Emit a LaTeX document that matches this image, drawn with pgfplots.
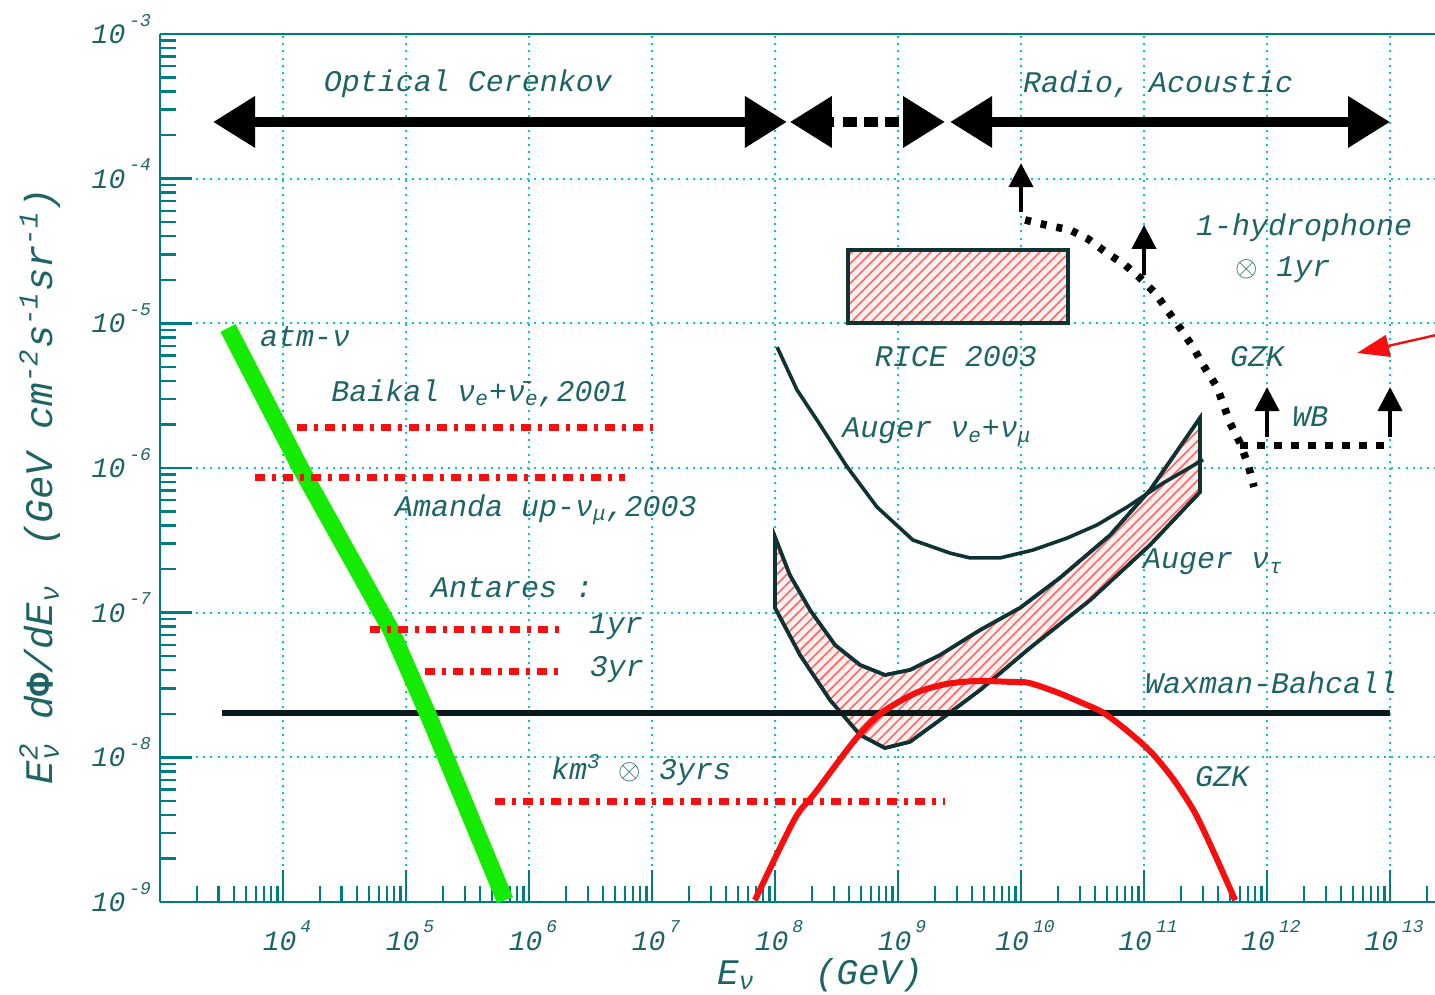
\documentclass[border=0pt]{standalone}
\usepackage{fontspec}
\setmainfont{Liberation Mono}
\usepackage{pgfplots}
\pgfplotsset{compat=1.18}
\usetikzlibrary{arrows.meta,patterns.meta}
\definecolor{txt}{RGB}{30,100,100}
\definecolor{axc}{RGB}{0,125,125}
\definecolor{gridc}{RGB}{0,200,205}
\definecolor{dk}{RGB}{15,50,50}
\definecolor{wb}{RGB}{10,25,25}
\definecolor{grn}{RGB}{20,235,0}
\definecolor{rd}{RGB}{245,15,15}
\newcommand{\lf}{\fontsize{15pt}{17pt}\selectfont\itshape}
\newcommand{\af}{\fontsize{18pt}{20pt}\selectfont\itshape}
\newcommand{\yf}{\fontsize{19.5pt}{22pt}\selectfont\itshape}
\newcommand{\tl}[1]{\fontsize{14pt}{16pt}\selectfont\itshape 10\hspace{2pt}\raisebox{0.62em}{\fontsize{9pt}{9pt}\selectfont #1}}
\newcommand{\sub}[1]{\textsubscript{#1}}
\newcommand{\sups}[1]{\textsuperscript{#1}}
\begin{document}
\begin{tikzpicture}
\begin{axis}[
  at={(0,0)}, anchor=south west,
  scale only axis, width=637.5pt, height=434pt,
  xmode=log, ymode=log,
  xmin=1e3, xmax=2.32e13, ymin=1e-9, ymax=1e-3,
  axis x line*=bottom, axis y line*=left,
  axis line style={axc, line width=1.4pt},
  tick style={axc, line width=1.2pt},
  major tick length=16pt, minor tick length=8pt,
  grid=major,
  major grid style={gridc, line width=1pt, dash pattern=on 1pt off 2.6pt},
  xtick={1e4,1e5,1e6,1e7,1e8,1e9,1e10,1e11,1e12,1e13},
  xticklabels={\tl{4},\tl{5},\tl{6},\tl{7},\tl{8},\tl{9},\tl{10},\tl{11},\tl{12},\tl{13}},
  ytick={1e-9,1e-8,1e-7,1e-6,1e-5,1e-4,1e-3},
  yticklabels={\tl{-9},\tl{-8},\tl{-7},\tl{-6},\tl{-5},\tl{-4},\tl{-3}},
  minor xtick={2e3,3e3,4e3,5e3,6e3,7e3,8e3,9e3,2e4,3e4,4e4,5e4,6e4,7e4,8e4,9e4,2e5,3e5,4e5,5e5,6e5,7e5,8e5,9e5,2e6,3e6,4e6,5e6,6e6,7e6,8e6,9e6,2e7,3e7,4e7,5e7,6e7,7e7,8e7,9e7,2e8,3e8,4e8,5e8,6e8,7e8,8e8,9e8,2e9,3e9,4e9,5e9,6e9,7e9,8e9,9e9,2e10,3e10,4e10,5e10,6e10,7e10,8e10,9e10,2e11,3e11,4e11,5e11,6e11,7e11,8e11,9e11,2e12,3e12,4e12,5e12,6e12,7e12,8e12,9e12,2e13},
  minor ytick={2e-9,3e-9,4e-9,5e-9,6e-9,7e-9,8e-9,9e-9,2e-8,3e-8,4e-8,5e-8,6e-8,7e-8,8e-8,9e-8,2e-7,3e-7,4e-7,5e-7,6e-7,7e-7,8e-7,9e-7,2e-6,3e-6,4e-6,5e-6,6e-6,7e-6,8e-6,9e-6,2e-5,3e-5,4e-5,5e-5,6e-5,7e-5,8e-5,9e-5,2e-4,3e-4,4e-4,5e-4,6e-4,7e-4,8e-4,9e-4},
  ticklabel style={text=txt},
  xticklabel style={anchor=base, yshift=-24pt, xshift=2pt},
  yticklabel style={anchor=base east, yshift=-4.7pt, xshift=-1pt},
  clip=false,
]
% RICE box
\addplot[draw=dk, line width=2pt, fill=red!6, postaction={pattern={Lines[angle=45,distance=3.5pt,line width=0.8pt]}, pattern color=red!60}]
  coordinates {(3.92e8,1.0e-5) (2.41e10,1.0e-5) (2.41e10,3.21e-5) (3.92e8,3.21e-5)} -- cycle;
% Auger nu_tau band
\addplot[draw=dk, line width=1.8pt, fill=red!6, postaction={pattern={Lines[angle=45,distance=3.5pt,line width=0.8pt]}, pattern color=red!60}]
  coordinates {(1.0e8,3.33e-7) (1.32e8,1.82e-7) (1.93e8,1.04e-7) (3.08e8,5.97e-8) (4.91e8,4.35e-8) (7.83e8,3.71e-8) (1.25e9,4.02e-8) (2.19e9,5.09e-8) (4.65e9,7.59e-8) (9.82e9,1.08e-7) (2.07e10,1.74e-7) (5.30e10,3.44e-7) (1.12e11,7.05e-7) (2.85e11,2.22e-6)
  (2.85e11,6.82e-7) (1.12e11,2.94e-7) (3.64e10,1.22e-7) (1.18e10,5.70e-8) (4.65e9,2.92e-8) (2.19e9,1.81e-8) (1.25e9,1.28e-8) (7.83e8,1.16e-8) (4.91e8,1.43e-8) (2.80e8,2.49e-8) (1.60e8,5.09e-8) (1.0e8,1.08e-7)} -- cycle;
% Waxman-Bahcall
\addplot[wb, line width=3.2pt] coordinates {(3.19e3,2.03e-8) (1.0e13,2.03e-8)};
% atm-nu
\addplot[grn, line width=8.5pt] coordinates {(3.57e3,9.29e-6) (1.37e4,1.02e-6) (7.55e4,7.59e-8) (1.54e5,1.90e-8) (6.38e5,1.03e-9)};
% red sensitivity lines
\addplot[rd, line width=3.5pt, dash pattern=on 5pt off 3.5pt on 2pt off 3.5pt] coordinates {(1.30e4,1.92e-6) (1.02e7,1.92e-6)};
\addplot[rd, line width=3.5pt, dash pattern=on 5pt off 3.5pt on 2pt off 3.5pt] coordinates {(5.92e3,8.53e-7) (6.03e6,8.53e-7)};
\addplot[rd, line width=3.5pt, dash pattern=on 5pt off 3.5pt on 2pt off 3.5pt] coordinates {(5.09e4,7.71e-8) (1.79e6,7.71e-8)};
\addplot[rd, line width=3.5pt, dash pattern=on 5pt off 3.5pt on 2pt off 3.5pt] coordinates {(1.43e5,3.95e-8) (1.79e6,3.95e-8)};
\addplot[rd, line width=3.5pt, dash pattern=on 5pt off 3.5pt on 2pt off 3.5pt] coordinates {(5.30e5,4.99e-9) (2.41e9,4.99e-9)};
% GZK flux
\addplot[rd, line width=3pt, smooth] coordinates {(6.87e7,1.03e-9) (1.43e8,3.69e-9) (2.11e8,5.66e-9) (4.47e8,1.32e-8) (7.28e8,2.02e-8) (1.40e9,2.79e-8) (2.46e9,3.21e-8) (4.39e9,3.37e-8) (8.45e9,3.32e-8) (1.16e10,3.27e-8) (1.93e10,2.83e-8) (3.13e10,2.38e-8) (4.73e10,2.02e-8) (7.69e10,1.47e-8) (1.16e11,1.07e-8) (1.75e11,6.97e-9) (2.60e11,4.12e-9) (3.78e11,2.11e-9) (5.50e11,1.03e-9)};
% Auger nu_e + nu_mu
\addplot[dk, line width=1.8pt] coordinates {(1.04e8,6.85e-6) (1.51e8,3.46e-6) (2.19e8,2.15e-6) (3.85e8,1.02e-6) (6.75e8,5.37e-7) (1.32e9,3.18e-7) (2.65e9,2.58e-7) (3.85e9,2.39e-7) (6.75e9,2.39e-7) (1.25e10,2.71e-7) (2.37e10,3.28e-7) (4.15e10,4.04e-7) (7.28e10,5.37e-7) (1.43e11,7.87e-7) (3.02e11,1.14e-6)};
% 1-hydrophone dotted
\addplot[black, line width=3.8pt, dash pattern=on 3pt off 5pt] coordinates {(1.08e10,5.18e-5) (1.72e10,4.71e-5) (2.50e10,4.42e-5) (3.51e10,3.83e-5) (5.00e10,3.06e-5) (7.02e10,2.53e-5) (9.27e10,2.06e-5) (1.23e11,1.62e-5) (1.54e11,1.24e-5) (1.96e11,9.29e-6) (2.50e11,6.85e-6) (3.02e11,5.15e-6) (3.92e11,3.63e-6) (5.00e11,2.05e-6) (6.03e11,1.49e-6) (7.02e11,1.05e-6) (7.83e11,7.40e-7)};
\addplot[black, line width=3.5pt, dash pattern=on 4pt off 4.5pt] coordinates {(6.03e11,1.44e-6) (1.0e13,1.44e-6)};
% up arrows
\addplot[black, line width=2pt, -{Triangle[length=12pt,width=12pt]}] coordinates {(1e10,5.89e-5) (1e10,1.28e-4)};
\addplot[black, line width=2pt, -{Triangle[length=12pt,width=12pt]}] coordinates {(1e11,2.16e-5) (1e11,4.79e-5)};
\addplot[black, line width=2pt, -{Triangle[length=12pt,width=12pt]}] coordinates {(1e12,1.64e-6) (1e12,3.63e-6)};
\addplot[black, line width=2pt, -{Triangle[length=12pt,width=12pt]}] coordinates {(1e13,1.64e-6) (1e13,3.63e-6)};
% red arrow
\addplot[rd, line width=1.2pt, -{Triangle[length=16pt,width=11pt]}] coordinates {(2.80e13,8.57e-6) (5.40e12,6.24e-6)};
% technique arrows
\addplot[black, line width=5pt, {Triangle[length=21pt,width=24.5pt]}-{Triangle[length=21pt,width=24.5pt]}] coordinates {(2.70e3,2.466e-4) (1.25e8,2.466e-4)};
\addplot[black, line width=5pt, -{Triangle[length=21pt,width=24.5pt]}] coordinates {(3.02e8,2.466e-4) (1.32e8,2.466e-4)};
\addplot[black, line width=5pt, dash pattern=on 7pt off 3.5pt] coordinates {(3.57e8,2.466e-4) (1.02e9,2.466e-4)};
\addplot[black, line width=5pt, -{Triangle[length=21pt,width=24.5pt]}] coordinates {(1.10e9,2.466e-4) (2.41e9,2.466e-4)};
\addplot[black, line width=5pt, {Triangle[length=21pt,width=24.5pt]}-{Triangle[length=21pt,width=24.5pt]}] coordinates {(2.65e9,2.466e-4) (1.0e13,2.466e-4)};
% text
\begin{scope}[every node/.style={font=\lf, text=txt, inner sep=0pt}]
\node at (axis cs:3.19e5,4.51e-4) {Optical Cerenkov};
\node at (axis cs:1.30e11,4.51e-4) {Radio, Acoustic};
\node at (axis cs:2.00e12,4.56e-5) {1-hydrophone};
\node at (axis cs:1.35e12,2.34e-5) {$\otimes$ 1yr};
\node at (axis cs:8.30e11,5.85e-6) {GZK};
\node at (axis cs:2.25e12,2.25e-6) {WB};
\node at (axis cs:2.96e9,5.85e-6) {RICE 2003};
\node at (axis cs:1.51e4,8.04e-6) {atm-ν};
\node at (axis cs:4.00e5,3.30e-6) {Baikal ν\sub{e}+\={ν}\sub{e},2001};
\node at (axis cs:1.37e6,5.13e-7) {Amanda up-ν\sub{μ},2003};
\node at (axis cs:2.07e9,1.77e-6) {Auger ν\sub{e}+ν\sub{μ}};
\node at (axis cs:3.64e11,2.24e-7) {Auger ν\sub{τ}};
\node at (axis cs:7.28e5,1.48e-7) {Antares :};
\node at (axis cs:5.09e6,7.96e-8) {1yr};
\node at (axis cs:5.19e6,4.02e-8) {3yr};
\node at (axis cs:1.08e12,3.27e-8) {Waxman-Bahcall};
\node at (axis cs:8.17e6,8.17e-9) {km\sups{3} $\otimes$ 3yrs};
\node at (axis cs:4.31e11,7.31e-9) {GZK};
\end{scope}
\draw[axc, line width=1.4pt] (rel axis cs:0,1) -- (rel axis cs:1.05,1);
\end{axis}
\node[font=\af, text=txt] at (330pt,-36.5pt) {E\sub{ν}\hspace{30pt}(GeV)};
\node[rotate=90, font=\yf, text=txt] at (-60pt,208pt) {E\rlap{\sups{2}}\sub{ν} d{\upshape\bfseries Φ}/dE\sub{ν}\hspace{1em}(GeV cm\sups{-2}s\sups{-1}sr\sups{-1})};
\pgfresetboundingbox
\path (-80pt,-46.5pt) rectangle (637.5pt,451pt);
\end{tikzpicture}
\end{document}
